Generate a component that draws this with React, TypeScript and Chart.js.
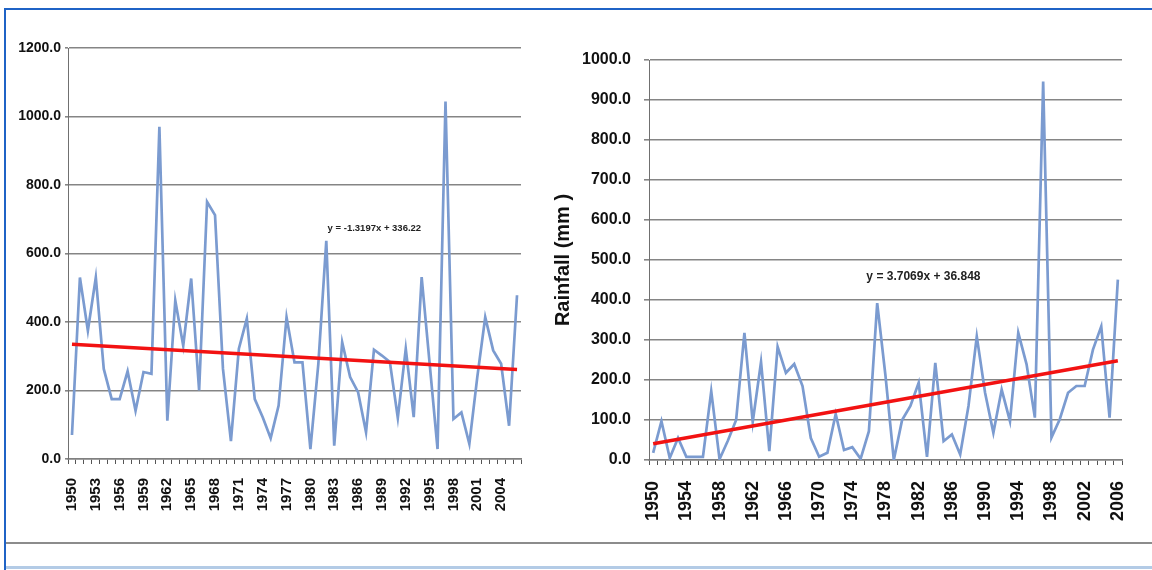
import React, { useEffect, useRef } from 'react';
import { Chart, registerables } from 'chart.js';

Chart.register(...registerables);

// ---------- data ----------
const years = [
  '1950', '1951', '1952', '1953', '1954', '1955', '1956', '1957', '1958', '1959',
  '1960', '1961', '1962', '1963', '1964', '1965', '1966', '1967', '1968', '1969',
  '1970', '1971', '1972', '1973', '1974', '1975', '1976', '1977', '1978', '1979',
  '1980', '1981', '1982', '1983', '1984', '1985', '1986', '1987', '1988', '1989',
  '1990', '1991', '1992', '1993', '1994', '1995', '1996', '1997', '1998', '1999',
  '2000', '2001', '2002', '2003', '2004', '2005', '2006',
];

const leftRainfall = [
  70, 530, 375, 530, 263, 175, 175, 256, 141, 254,
  249, 970, 112, 463, 331, 527, 200, 751, 712, 263,
  52, 322, 410, 175, 122, 61, 156, 414, 282, 282,
  29, 278, 637, 39, 341, 239, 195, 78, 319, 302,
  283, 120, 322, 122, 531, 280, 29, 1044, 117, 136,
  44, 239, 414, 317, 278, 97, 478,
];

const rightRainfall = [
  18, 97, 5, 55, 8, 8, 8, 172, 2, 48,
  100, 318, 95, 245, 22, 283, 218, 240, 185, 55,
  8, 18, 115, 25, 32, 3, 72, 392, 210, 0,
  100, 135, 193, 8, 243, 47, 64, 14, 135, 309,
  168, 68, 176, 97, 318, 239, 106, 946, 56, 102,
  168, 185, 185, 276, 334, 106, 451,
];

// trend line values at first and last year
const leftTrend = [334.9, 261.0];
const rightTrend = [40.6, 248.1];

const leftEquation = 'y = -1.3197x + 336.22';
const rightEquation = 'y = 3.7069x + 36.848';

const leftYTicks = { max: 1200, step: 200 };
const rightYTicks = { max: 1000, step: 100 };

const rightAxisTitle = 'Rainfall (mm )';

// ---------- styling ----------
const SANS = "'Liberation Sans', Arial, Helvetica, sans-serif";

const equationPlugin = {
  id: 'equation',
  afterDatasetsDraw(chart: any, _args: any, opts: any) {
    if (!opts || !opts.text) return;
    const { ctx, scales } = chart;
    const x = scales.x.getPixelForValue(opts.index);
    const y = scales.y.getPixelForValue(opts.value);
    ctx.save();
    ctx.font = opts.font;
    ctx.fillStyle = '#222';
    ctx.textAlign = 'center';
    ctx.textBaseline = 'middle';
    ctx.fillText(opts.text, x, y);
    ctx.restore();
  },
};

function makeConfig(p: any) {
  return {
    type: 'line',
    data: {
      labels: years,
      datasets: [
        {
          label: 'Trend',
          data: [
            { x: years[0], y: p.trend[0] },
            { x: years[years.length - 1], y: p.trend[1] },
          ],
          borderColor: '#f21212',
          borderWidth: 3.5,
          pointRadius: 0,
          order: 0,
        },
        {
          label: 'Rainfall',
          data: p.values,
          borderColor: '#7b9bd0',
          borderWidth: 2.7,
          pointRadius: 0,
          tension: 0,
          order: 1,
        },
      ],
    },
    options: {
      responsive: false,
      maintainAspectRatio: false,
      animation: false,
      layout: { padding: { top: p.padTop, right: p.padRight, left: 0, bottom: 0 } },
      plugins: {
        legend: { display: false },
        tooltip: { enabled: false },
        equation: p.equation,
      },
      scales: {
        x: {
          type: 'category',
          offset: true,
          grid: {
            display: true,
            offset: true,
            drawOnChartArea: false,
            drawTicks: true,
            tickLength: 5,
            color: '#555',
            lineWidth: 1,
          },
          border: { display: true, color: '#808080', width: 1.5 },
          ticks: {
            autoSkip: false,
            maxRotation: 90,
            minRotation: 90,
            padding: p.xPad,
            color: '#111',
            font: { family: SANS, size: p.xFont, weight: 'bold' },
            callback: (_v: any, i: number) => (i % p.labelStep === 0 ? years[i] : ''),
          },
          afterFit: (s: any) => {
            s.height = p.xHeight;
            s.paddingLeft = 0;
            s.paddingRight = 0;
          },
        },
        y: {
          min: 0,
          max: p.yTicks.max,
          ticks: {
            stepSize: p.yTicks.step,
            padding: p.yPad,
            color: '#111',
            font: { family: SANS, size: p.yFont, weight: 'bold' },
            callback: (v: any) => Number(v).toFixed(1),
          },
          grid: { color: '#858585', lineWidth: 1.6, tickLength: p.yTickLen },
          border: { display: true, color: '#707070', width: 1 },
          title: p.title
            ? {
                display: true,
                text: p.title,
                color: '#111',
                font: { family: SANS, size: 20, weight: 'bold' },
                padding: { top: 4, bottom: 4 },
              }
            : { display: false },
          afterFit: (s: any) => {
            s.width = p.yWidth;
          },
        },
      },
    },
    plugins: [equationPlugin],
  };
}

function Panel(props: { cfg: any; left: number; top: number; width: number; height: number }) {
  const ref = useRef<HTMLCanvasElement | null>(null);
  useEffect(() => {
    if (!ref.current) return;
    const chart = new Chart(ref.current, makeConfig(props.cfg) as any);
    return () => chart.destroy();
  }, []);
  return (
    <canvas
      ref={ref}
      width={props.width}
      height={props.height}
      style={{
        position: 'absolute',
        left: props.left,
        top: props.top,
        width: props.width,
        height: props.height,
      }}
    />
  );
}

const leftPanel = {
  values: leftRainfall,
  trend: leftTrend,
  yTicks: leftYTicks,
  labelStep: 3,
  padTop: 48,
  padRight: 24,
  yWidth: 68,
  yPad: 4,
  yTickLen: 3,
  yFont: 14,
  xFont: 15,
  xPad: 14,
  xHeight: 81,
  title: null,
  equation: { text: leftEquation, index: 38.05, value: 674, font: `bold 9.5px ${SANS}` },
};

const rightPanel = {
  values: rightRainfall,
  trend: rightTrend,
  yTicks: rightYTicks,
  labelStep: 4,
  padTop: 60,
  padRight: 24,
  yWidth: 102,
  yPad: 13,
  yTickLen: 5,
  yFont: 16,
  xFont: 18,
  xPad: 16,
  xHeight: 80,
  title: rightAxisTitle,
  equation: { text: rightEquation, index: 32.57, value: 458, font: `bold 12px ${SANS}` },
};

export default function App() {
  return (
    <div
      style={{
        position: 'absolute',
        left: 0,
        top: 0,
        width: 1152,
        height: 570,
        overflow: 'hidden',
        background: '#ffffff',
      }}
    >
      <div style={{ position: 'absolute', left: 4, top: 8, width: 1148, height: 2, background: '#1f63c6' }} />
      <div style={{ position: 'absolute', left: 4, top: 8, width: 2, height: 562, background: '#1f63c6' }} />
      <div style={{ position: 'absolute', left: 6, top: 542, width: 1146, height: 2, background: '#8c8c8c' }} />
      <div style={{ position: 'absolute', left: 6, top: 566, width: 1146, height: 3, background: '#b3cbe6' }} />
      <Panel cfg={leftPanel} left={0} top={0} width={545} height={540} />
      <Panel cfg={rightPanel} left={547} top={0} width={599} height={540} />
    </div>
  );
}
